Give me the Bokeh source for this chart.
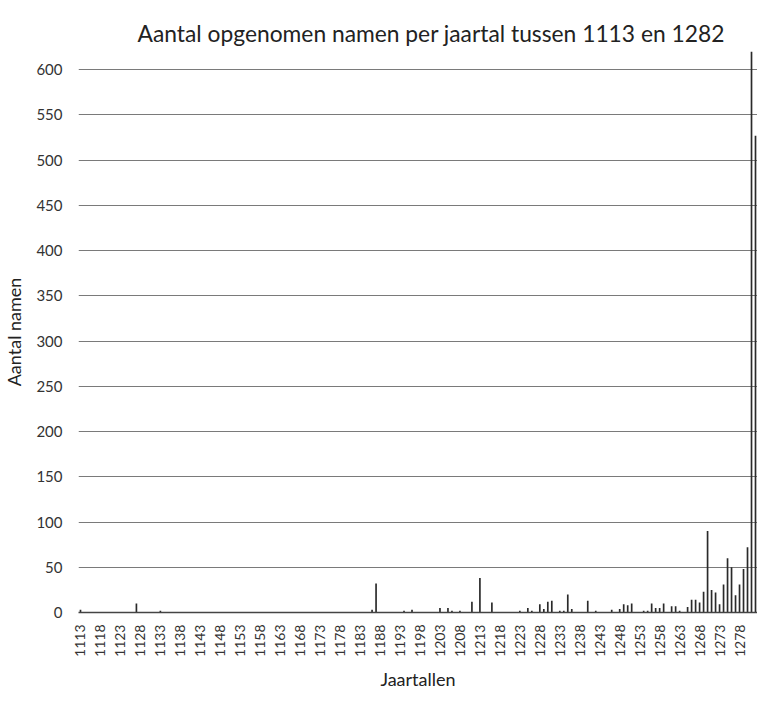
from bokeh.plotting import figure
from bokeh.models import FixedTicker, Range1d, ColumnDataSource
from bokeh.embed import file_html
from bokeh.resources import INLINE
import math

# Years with at least one recorded name (all other years: 0)
years = [1113, 1127, 1133, 1186, 1187, 1194, 1196, 1203, 1205, 1206, 1208,
         1211, 1213, 1216, 1223, 1225, 1226, 1228, 1229, 1230, 1231, 1233,
         1234, 1235, 1236, 1240, 1242, 1246, 1248, 1249, 1250, 1251, 1254,
         1255, 1256, 1257, 1258, 1259, 1261, 1262, 1263, 1265, 1266, 1267,
         1268, 1269, 1270, 1271, 1272, 1273, 1274, 1275, 1276, 1277, 1278,
         1279, 1280, 1281, 1282]
counts = [3, 10, 2, 3, 32, 2, 3, 5, 5, 2, 2,
          12, 38, 11, 2, 5, 2, 9, 4, 12, 13, 2,
          2, 20, 4, 13, 2, 3, 4, 9, 8, 10, 2,
          2, 10, 5, 5, 10, 7, 7, 2, 6, 14, 14,
          11, 23, 90, 25, 22, 9, 31, 60, 50, 19, 31,
          48, 72, 620, 527]

x_tick_years = [1113, 1118, 1123, 1128, 1133, 1138, 1143, 1148, 1153, 1158,
                1163, 1168, 1173, 1178, 1183, 1188, 1193, 1198, 1203, 1208,
                1213, 1218, 1223, 1228, 1233, 1238, 1243, 1248, 1253, 1258,
                1263, 1268, 1273, 1278]
y_ticks = [0, 50, 100, 150, 200, 250, 300, 350, 400, 450, 500, 550, 600]

first_year, last_year = 1113, 1282

FONT = "Lato"

p = figure(width=757, height=692, output_backend="svg", toolbar_location=None,
           x_range=Range1d(first_year - 0.5, last_year + 0.5),
           y_range=Range1d(0, 620),
           min_border_left=64, min_border_right=0, min_border_top=51,
           min_border_bottom=71)

src = ColumnDataSource(dict(year=years, count=counts))
p.vbar(x="year", top="count", width=0.42, bottom=0, source=src,
       fill_color="#2a2a2a", line_color=None)

p.title.text = "Aantal opgenomen namen per jaartal tussen 1113 en 1282"
p.title.align = "left"
p.title.offset = 59
p.title.text_font = FONT
p.title.text_font_size = "22.8px"
p.title.text_font_style = "normal"
p.title.text_color = "#222222"

p.outline_line_color = None
p.xgrid.grid_line_color = None
p.ygrid.grid_line_color = "#7a7a7a"
p.ygrid.grid_line_width = 1
p.ygrid.ticker = FixedTicker(ticks=y_ticks)

p.xaxis.ticker = FixedTicker(ticks=x_tick_years)
p.xaxis.major_label_orientation = math.pi / 2
p.xaxis.major_label_text_font = FONT
p.xaxis.major_label_text_font_size = "14px"
p.xaxis.major_label_text_color = "#333333"
p.xaxis.major_tick_line_color = None
p.xaxis.minor_tick_line_color = None
p.xaxis.axis_line_color = "#444444"
p.xaxis.axis_line_width = 1.5
p.xaxis.major_label_standoff = 6
p.xaxis.axis_label = "Jaartallen"
p.xaxis.axis_label_text_font = FONT
p.xaxis.axis_label_text_font_size = "18px"
p.xaxis.axis_label_text_font_style = "normal"
p.xaxis.axis_label_text_color = "#222222"
p.xaxis.axis_label_standoff = 8

p.yaxis.ticker = FixedTicker(ticks=y_ticks)
p.yaxis.major_label_text_font = FONT
p.yaxis.major_label_text_font_size = "15px"
p.yaxis.major_label_text_color = "#333333"
p.yaxis.major_tick_line_color = None
p.yaxis.minor_tick_line_color = None
p.yaxis.axis_line_color = None
p.yaxis.major_label_standoff = 10
p.yaxis.axis_label = "Aantal namen"
p.yaxis.axis_label_text_font = FONT
p.yaxis.axis_label_text_font_size = "18px"
p.yaxis.axis_label_text_font_style = "normal"
p.yaxis.axis_label_text_color = "#222222"
p.yaxis.axis_label_standoff = 8

open("out.html", "w").write(file_html(p, INLINE))
